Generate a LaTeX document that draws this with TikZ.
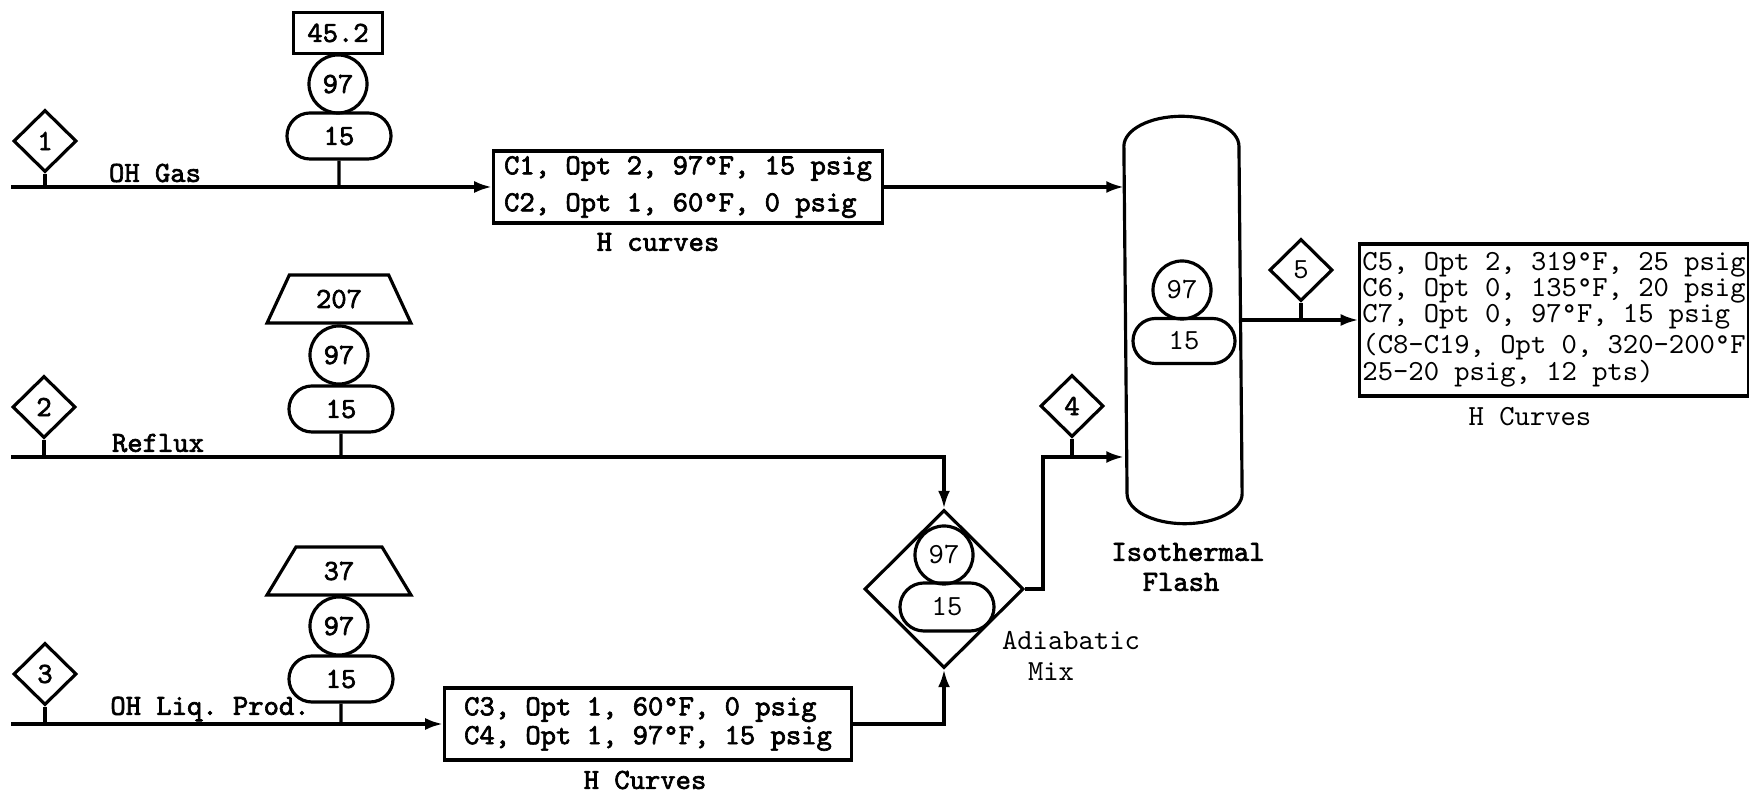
\documentclass[tikz,border=0pt]{standalone}
\usepackage{fontspec}
\setmonofont{lmmono10-regular.otf}[BoldFont=lmmono10-regular.otf, BoldFeatures={FakeBold=2.2}]
\usetikzlibrary{arrows.meta,shapes.geometric,shapes.misc}

\begin{document}
\begin{tikzpicture}[
	x=0.01cm, y=-0.01cm, line width=0.9pt,
	>={Latex[length=5pt,width=3.4pt]},
	every node/.style={ font=\ttfamily\bfseries\fontsize{8.3}{9.5}\selectfont, inner sep=0pt },
	thin text/.style={ font=\ttfamily\fontsize{8.3}{7.4}\selectfont },
	tag/.style={ diamond, draw, minimum width=0.63cm, minimum height=0.62cm },
	temp/.style={ circle, draw, minimum size=0.58cm },
	pres/.style={ rounded rectangle, draw, minimum width=1.04cm, minimum height=0.46cm },
	rate/.style={ rectangle, draw, minimum width=0.89cm, minimum height=0.41cm },
	liq/.style={ trapezium, draw, trapezium stretches=true, trapezium angle=61, minimum width=1.44cm, minimum height=0.48cm },
	mixer/.style={ diamond, draw, minimum width=1.59cm, minimum height=1.58cm },
	curves/.style={ rectangle, draw, align=left, inner xsep=3pt, minimum height=0.72cm }
]
\useasboundingbox (0,0) rectangle (1749,792);

% feed streams
\coordinate (s1) at (11,187);
\coordinate (s2) at (11,457);
\coordinate (s3) at (11,724);
\node at (45,141) (d1) [tag] {1};
\node at (44,407) (d2) [tag] {2};
\node at (45,674) (d3) [tag] {3};
\node at (155,173) (gas) {OH Gas};
\node at (158,443) (reflux) {Reflux};
\node at (210,709) (liqprod) {OH Liq. Prod.};

% stream conditions
\node at (338,33) (r1) [rate] {45.2};
\node at (338,84) (t1) [temp] {97};
\node at (339,136) (p1) [pres] {15};
\node at (339,299) (l2) [liq] {207};
\node at (339,355) (t2) [temp] {97};
\node at (341,409) (p2) [pres] {15};
\node at (339,571) (l3) [liq] {37};
\node at (339,626) (t3) [temp] {97};
\node at (341,679) (p3) [pres] {15};

% component boxes
\node at (688,187) (box1) [curves, minimum width=3.89cm, font=\ttfamily\bfseries\fontsize{8.3}{10.5}\selectfont]
  {C1, Opt 2, 97°F, 15 psig\\C2, Opt 1, 60°F, 0 psig};
\node at (658,242) (hc1) {H curves};
\node at (648,724) (box3) [curves, minimum width=4.07cm, font=\ttfamily\bfseries\fontsize{8.3}{8.2}\selectfont]
  {C3, Opt 1, 60°F, 0 psig\\C4, Opt 1, 97°F, 15 psig};
\node at (645,780) (hc3) {H Curves};

% adiabatic mix
\node at (944,589) (mix) [mixer] {};
\node at (944,555) (mt) [temp, thin text] {97};
\node at (947,607) (mp) [pres, minimum width=0.94cm, minimum height=0.48cm, thin text] {15};
\node at (1071,640) (adia) [thin text] {Adiabatic};
\node at (1051,672) (adiamix) [thin text] {Mix};
\coordinate (j4) at (1043,457);
\node at (1072,406) (d4) [tag] {4};

% isothermal flash
\node at (1183,320) (flash) [minimum width=1.15cm, minimum height=4.04cm] {};
\draw ([yshift=-0.30cm]flash.north west) arc[start angle=180, end angle=0, x radius=0.575cm, y radius=0.30cm]
  -- ([yshift=0.30cm]flash.south east) arc[start angle=0, end angle=-180, x radius=0.575cm, y radius=0.30cm] -- cycle;
\node at (1182,290) (ft) [temp, thin text] {97};
\node at (1184,341) (fp) [pres, minimum width=1.02cm, minimum height=0.45cm, thin text] {15};
\node at (1188,552) (iso) {Isothermal};
\node at (1181,582) (isoflash) {Flash};

% product
\node at (1301,270) (d5) [tag, thin text] {5};
\node at (1554,320) (box5) [curves, inner xsep=0.5pt, minimum width=3.88cm, minimum height=1.52cm, thin text]
  {C5, Opt 2, 319°F, 25 psig\\C6, Opt 0, 135°F, 20 psig\\C7, Opt 0, 97°F, 15 psig\\(C8-C19, Opt 0, 320-200°F\\[-0.8pt]25-20 psig, 12 pts)};
\node at (1530,417) (hc5) [thin text] {H Curves};

% connectors
\draw[->] (s1) -- (box1);
\draw[->] (box1) -- (box1 -| flash.west);
\draw[->] (s2) -| (mix.north);
\draw[->] (s3) -- (box3);
\draw[->] (box3) -| (mix.south);
\draw[->] (mix.east) -| (j4) -- (j4 -| flash.west);
\draw[->] (flash.east |- box5) -- (box5);
\draw (d1) -- (d1 |- s1);
\draw (d2) -- (d2 |- s2);
\draw (d3) -- (d3 |- s3);
\draw (p1) -- (p1 |- s1);
\draw (p2) -- (p2 |- s2);
\draw (p3) -- (p3 |- s3);
\draw (d4) -- (d4 |- j4);
\draw (d5) -- (d5 |- box5);

\end{tikzpicture}
\end{document}
